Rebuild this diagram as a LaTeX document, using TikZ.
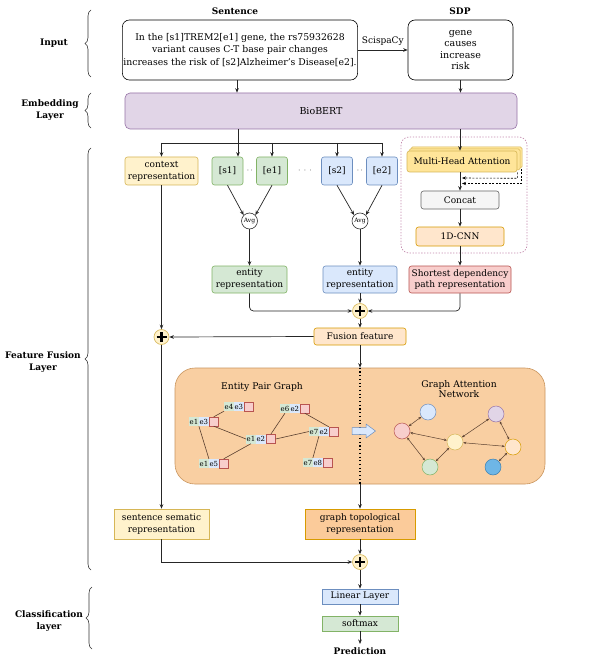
\documentclass[tikz,border=0pt]{standalone}
\usepackage{fontspec}
\setmainfont{DejaVu Serif}
\usetikzlibrary{arrows.meta,decorations.pathreplacing,calc}
\definecolor{purF}{HTML}{E1D5E7}\definecolor{purD}{HTML}{9673A6}
\definecolor{yelF}{HTML}{FFF2CC}\definecolor{yelD}{HTML}{D6B656}
\definecolor{greF}{HTML}{D5E8D4}\definecolor{greD}{HTML}{82B366}
\definecolor{bluF}{HTML}{DAE8FC}\definecolor{bluD}{HTML}{6C8EBF}
\definecolor{redF}{HTML}{F8CECC}\definecolor{redD}{HTML}{B85450}
\definecolor{oraF}{HTML}{FFE6CC}\definecolor{oraD}{HTML}{D79B00}
\definecolor{grayF}{HTML}{F5F5F5}\definecolor{grayD}{HTML}{666666}
\definecolor{mhaF}{HTML}{FFE599}
\definecolor{graphF}{HTML}{F9CFA2}\definecolor{graphD}{HTML}{C9955E}
\definecolor{gtrF}{HTML}{FBCB9A}
\definecolor{contD}{HTML}{C48AAE}
\definecolor{edgeC}{HTML}{5A4030}
\definecolor{deepF}{HTML}{6EB6E6}\definecolor{deepD}{HTML}{3C7FB0}
\newcommand{\epn}[5]{%
  \node[epa, anchor=west] (#1a) at (#2,#3) {#4};
  \node[epb, anchor=west] (#1b) at (#1a.east) {#5};
  \node[epp, anchor=west] (#1p) at (#1b.east) {};
}
\newcommand{\plussign}[1]{%
  \draw[line width=2.3pt] ($(#1.center)+(-5,0)$) -- ($(#1.center)+(5,0)$);
  \draw[line width=2.3pt] ($(#1.center)+(0,-5)$) -- ($(#1.center)+(0,5)$);
}
\begin{document}
\begin{tikzpicture}[x=1pt,y=-1pt,
  box/.style={draw, line width=0.6pt, inner sep=1pt, align=center, font=\fontsize{9}{11.8}\selectfont},
  rbox/.style={box, rounded corners=2.5pt},
  arr/.style={-{Stealth[length=4.5pt,width=3.6pt]}, line width=0.7pt, draw=black!85},
  lbl/.style={font=\bfseries\fontsize{9}{11.5}\selectfont, align=center},
  lbrace/.style={decorate, decoration={brace, amplitude=6pt}, line width=0.6pt, draw=black!80},
  plusn/.style={circle, fill=yelF, draw=yelD, line width=0.6pt, minimum size=15pt, inner sep=0pt},
  avgn/.style={circle, draw=black!80, fill=white, line width=0.6pt, minimum size=16pt, inner sep=0pt, font=\fontsize{6}{6}\selectfont},
  epa/.style={fill=greF, minimum width=9.5pt, minimum height=9pt, inner sep=0pt, font=\fontsize{7}{7}\selectfont},
  epb/.style={fill=bluF, minimum width=9.5pt, minimum height=9pt, inner sep=0pt, font=\fontsize{7}{7}\selectfont},
  epp/.style={fill=redF, draw=redD, line width=0.4pt, minimum width=9.5pt, minimum height=9pt, inner sep=0pt},
  epe/.style={line width=0.6pt, draw=edgeC},
  gn/.style={circle, minimum size=16pt, inner sep=0pt, line width=0.5pt},
  ge/.style={{Stealth[length=3pt,width=2.4pt]}-{Stealth[length=3pt,width=2.4pt]}, line width=0.5pt, draw=edgeC}
]
\fill[white] (0,0) rectangle (599,660);
\useasboundingbox (0,0) rectangle (599,660);

% left braces and labels
\draw[lbrace] (91,77) -- (91,10);
\node[lbl] (linput) at (54,43) {Input};
\draw[lbrace] (91,128) -- (91,93);
\node[lbl] (lemb) at (50,110) {Embedding\\Layer};
\draw[lbrace] (91,570) -- (91,148);
\node[lbl] (lfus) at (43,362) {Feature Fusion\\Layer};
\draw[lbrace] (92,649) -- (92,587);
\node[lbl] (lcls) at (49,621) {Classification\\layer};

% input
\node[lbl] (tsent) at (235,11) {Sentence};
\node[lbl] (tsdp) at (460,11) {SDP};
\node[box, rounded corners=7pt, minimum width=230pt, minimum height=60pt, font=\fontsize{9.3}{12.2}\selectfont] (sent) at (240,50)
  {In the [s1]TREM2[e1] gene, the rs75932628\\variant causes C-T base pair changes\\increases the risk of [s2]Alzheimer's Disease[e2].};
\node[box, rounded corners=7pt, minimum width=105pt, minimum height=60pt, font=\fontsize{9.5}{11.6}\selectfont] (sdp) at (460.5,50)
  {gene\\causes\\increase\\risk};
\draw[arr] (sent.east) -- node[above=1pt, font=\fontsize{9}{10}\selectfont] {ScispaCy} (sdp.west);

% embedding
\node[box, rounded corners=5pt, fill=purF, draw=purD, minimum width=392pt, minimum height=36pt, font=\fontsize{9.5}{11}\selectfont] (bert) at (321,111) {BioBERT};
\draw[arr] (sent.south -| 237,0) -- (bert.north -| 237,0);
\draw[arr] (sdp.south) -- (bert.north -| sdp.south);

% token boxes
\node[rbox, fill=yelF, draw=yelD, minimum width=73pt, minimum height=28pt] (ctx) at (161.5,171) {context\\representation};
\node[rbox, fill=greF, draw=greD, minimum width=31pt, minimum height=28pt] (s1) at (227.5,171) {[s1]};
\node[rbox, fill=greF, draw=greD, minimum width=31pt, minimum height=28pt] (e1) at (272,171) {[e1]};
\node[rbox, fill=bluF, draw=bluD, minimum width=31pt, minimum height=28pt] (s2) at (337,171) {[s2]};
\node[rbox, fill=bluF, draw=bluD, minimum width=31pt, minimum height=28pt] (e2) at (382,171) {[e2]};
\node[font=\fontsize{8}{9}\selectfont] (d1) at (250,171) {$\cdot\,\cdot$};
\node[font=\fontsize{8}{9}\selectfont] (d2) at (305,171) {$\cdot\,\cdot\,\cdot$};
\node[font=\fontsize{8}{9}\selectfont] (d3) at (360,171) {$\cdot\,\cdot$};

\coordinate (hb) at (238,143);
\draw[line width=0.7pt, draw=black!85] (bert.south -| hb) -- (hb);
\draw[line width=0.7pt, draw=black!85] (hb -| ctx.north) -- (hb -| e2.north);
\draw[arr] (hb) -- (hb |- s1.north);
\draw[arr] (hb -| ctx.north) -- (ctx.north);
\draw[arr] (hb -| e1.north) -- (e1.north);
\draw[arr] (hb -| s2.north) -- (s2.north);
\draw[arr] (hb -| e2.north) -- (e2.north);

% avg
\node[avgn] (avg1) at (249.5,221) {Avg};
\node[avgn] (avg2) at (360,221) {Avg};
\draw[arr] (s1.south) -- (avg1.north west);
\draw[arr] (e1.south) -- (avg1.north east);
\draw[arr] (s2.south) -- (avg2.north west);
\draw[arr] (e2.south) -- (avg2.north east);

\node[rbox, fill=greF, draw=greD, minimum width=75pt, minimum height=27pt] (ent1) at (249.5,279.5) {entity\\representation};
\node[rbox, fill=bluF, draw=bluD, minimum width=74pt, minimum height=27pt] (ent2) at (360,279.5) {entity\\representation};
\draw[arr] (avg1.south) -- (ent1.north);
\draw[arr] (avg2.south) -- (ent2.north);

% SDP branch
\draw[rounded corners=8pt, draw=contD, line width=0.7pt, dash pattern=on 1.3pt off 1.6pt] (401,137) rectangle (527,253);
\draw[fill=mhaF, draw=yelD, line width=0.5pt, rounded corners=1.5pt] (411,147) rectangle (522,168);
\draw[fill=mhaF, draw=yelD, line width=0.5pt, rounded corners=1.5pt] (409,149) rectangle (520,170);
\node[rbox, fill=mhaF, draw=yelD, minimum width=110pt, minimum height=21pt, font=\fontsize{9}{11}\selectfont] (mha) at (462,161.5) {Multi-Head Attention};
\node[rbox, fill=grayF, draw=grayD, minimum width=78pt, minimum height=18pt] (concat) at (460,200) {Concat};
\node[rbox, fill=oraF, draw=oraD, minimum width=88pt, minimum height=19pt] (cnn) at (460,236.5) {1D-CNN};
\node[rbox, fill=redF, draw=redD, minimum width=102pt, minimum height=27pt, inner sep=0pt] (sdpr) at (460,279.5) {Shortest dependency\\path representation};
\draw[arr] (bert.south -| concat.north) -- (concat.north |- mha.north);
\draw[arr] (mha.south -| concat.north) -- (concat.north);
\draw[line width=0.6pt, -{Stealth[length=4pt,width=3.2pt]}, dash pattern=on 2pt off 1.5pt] (mha.south east) -- ++(0,6) -- (462,178);
\draw[line width=0.6pt, -{Stealth[length=4pt,width=3.2pt]}, dash pattern=on 2pt off 1.5pt] (521.5,169) -- (521.5,183.5) -- (462,183.5);
\draw[arr] (concat.south) -- (cnn.north);
\draw[arr] (cnn.south) -- (sdpr.north);

% fusion
\node[plusn] (plus1) at (360,311) {};
\plussign{plus1}
\node[rbox, fill=oraF, draw=oraD, minimum width=92pt, minimum height=17pt] (fusion) at (360,336.5) {Fusion feature};
\node[plusn] (plus2) at (161.5,337) {};
\plussign{plus2}
\draw[arr, rounded corners=4pt] (ent1.south) |- (plus1.west);
\draw[arr] (ent2.south) -- (plus1.north);
\draw[arr, rounded corners=4pt] (sdpr.south) |- (plus1.east);
\draw[arr] (plus1.south) -- (fusion.north);
\draw[arr] (fusion.west) -- (plus2.east);
\draw[arr] (ctx.south) -- (plus2.north);

% graph panel
\node[draw=graphD, fill=graphF, line width=0.6pt, rounded corners=20pt, minimum width=370pt, minimum height=116pt, inner sep=0pt] (graph) at (360,426) {};
\draw[arr] (fusion.south) -- (graph.north);
\draw[line width=1.3pt, dash pattern=on 1.1pt off 2.6pt] (graph.north) -- (graph.south);
\node[font=\fontsize{9.2}{11}\selectfont] (tepg) at (262,387) {Entity Pair Graph};
\node[font=\fontsize{9.2}{10.5}\selectfont, align=center] (tgat) at (459,389) {Graph Attention\\Network};

\epn{e43}{224}{406.5}{e4}{e3}
\epn{e13}{189}{421.5}{e1}{e3}
\epn{e12}{246}{439}{e1}{e2}
\epn{e15}{199}{463.5}{e1}{e5}
\epn{e62}{280}{408.5}{e6}{e2}
\epn{e72}{309}{431.5}{e7}{e2}
\epn{e78}{303}{462.5}{e7}{e8}
\draw[epe] (e13p.north) -- (e43a.south west);
\draw[epe] (e13p.south) -- (e12a.west);
\draw[epe] (e13a.south east) -- (e15b.north west);
\draw[epe] (e15p.north) -- (e12a.south);
\draw[epe] (e12p.north) -- (e62a.south);
\draw[epe] (e62p.south) -- (e72b.north east);
\draw[epe] (e12p.east) -- (e72a.west);
\draw[epe] (e72a.south east) -- (e78b.north west);

\draw[fill=bluF, draw=bluD, line width=0.5pt] (352,427.5) -- (366,427.5) -- (366,424) -- (375.5,431) -- (366,438) -- (366,434.5) -- (352,434.5) -- cycle;

\node[gn, fill=bluF, draw=bluD] (gb) at (428,412) {};
\node[gn, fill=redF, draw=redD] (gp) at (402,431) {};
\node[gn, fill=yelF, draw=yelD] (gy) at (455,442) {};
\node[gn, fill=greF, draw=greD] (gg) at (430,467) {};
\node[gn, fill=purF, draw=purD] (gu) at (496,414) {};
\node[gn, fill=oraF, draw=oraD] (go) at (513,447) {};
\node[gn, fill=deepF, draw=deepD] (gd) at (493,467) {};
\draw[ge] (gp) -- (gb);
\draw[ge] (gp) -- (gy);
\draw[ge] (gp) -- (gg);
\draw[ge] (gg) -- (gy);
\draw[ge] (gy) -- (gu);
\draw[ge] (gy) -- (go);
\draw[ge] (gu) -- (go);
\draw[ge] (go) -- (gd);

% bottom
\node[box, fill=yelF, draw=yelD, minimum width=95pt, minimum height=30pt] (ssr) at (161.5,524) {sentence sematic\\representation};
\node[box, fill=gtrF, draw=oraD, minimum width=110pt, minimum height=30pt] (gtr) at (360,524) {graph topological\\representation};
\draw[arr] (plus2.south) -- (ssr.north);
\draw[arr] (graph.south) -- (gtr.north);
\node[plusn] (plus3) at (360,562) {};
\plussign{plus3}
\draw[arr] (gtr.south) -- (plus3.north);
\draw[arr] (ssr.south) |- (plus3.west);
\node[box, fill=bluF, draw=bluD, minimum width=76pt, minimum height=15pt] (lin) at (360,596.5) {Linear Layer};
\node[box, fill=greF, draw=greD, minimum width=76pt, minimum height=15pt] (soft) at (360,623.5) {softmax};
\node[lbl] (pred) at (360,651) {Prediction};
\draw[arr] (plus3.south) -- (lin.north);
\draw[arr] (lin.south) -- (soft.north);
\draw[arr] (soft.south) -- (pred.north);
\end{tikzpicture}
\end{document}
